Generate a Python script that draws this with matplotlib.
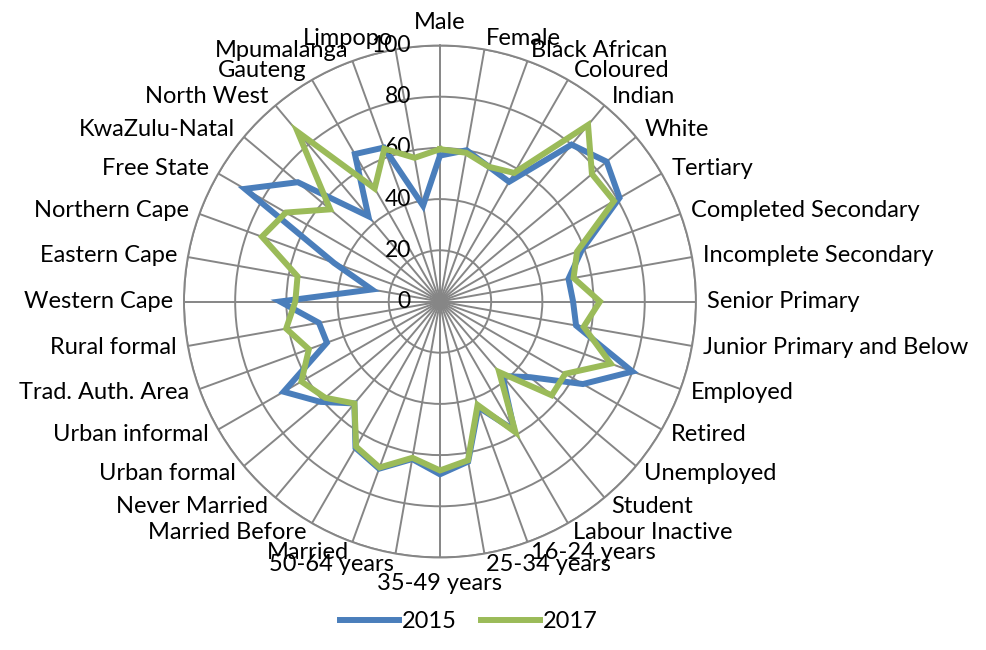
import numpy as np
import matplotlib
matplotlib.use("Agg")
import matplotlib.pyplot as plt

plt.rcParams['font.family'] = ['Lato', 'DejaVu Sans']

categories = ['Male', 'Female', 'Black African', 'Coloured', 'Indian', 'White',
              'Tertiary', 'Completed Secondary', 'Incomplete Secondary',
              'Senior Primary', 'Junior Primary and Below', 'Employed', 'Retired',
              'Unemployed', 'Student', 'Labour Inactive', '16-24 years',
              '25-34 years', '35-49 years', '50-64 years', 'Married',
              'Married Before', 'Never Married', 'Urban formal', 'Urban informal',
              'Trad. Auth. Area', 'Rural formal', 'Western Cape', 'Eastern Cape',
              'Northern Cape', 'Free State', 'KwaZulu-Natal', 'North West',
              'Gauteng', 'Mpumalanga', 'Limpopo']

vals_2015 = [57, 60, 56, 54, 80, 85, 81, 59, 51, 52, 54, 80, 64.5, 46, 38, 58, 44,
             63.5, 67.5, 62.5, 69.5, 66, 52, 61, 70.5, 47, 48, 62.5, 27, 44, 88,
             72.5, 43.5, 66.5, 64, 38]
vals_2017 = [59.5, 59, 56, 58, 90, 77.5, 78.5, 57, 53, 62.5, 57, 71, 56.5, 57, 36,
             59, 43, 63, 66, 62, 69, 65.5, 52, 58.5, 62.5, 54.5, 61, 56.5, 56.5,
             74, 69.5, 56, 86.5, 51, 63.5, 57]
r_ticks = [0, 20, 40, 60, 80, 100]

blue = '#4A7EBB'
green = '#9BBB59'
grid = '#868686'

n = len(categories)
theta = np.arange(n) * 2 * np.pi / n

fig = plt.figure(figsize=(9.87, 6.5), dpi=100)
ax = fig.add_axes([0.1864, 0.1423, 0.5187, 0.7877], projection='polar')
ax.set_theta_zero_location('N')
ax.set_theta_direction(-1)
ax.set_ylim(0, 100)

closed = np.append(theta, theta[0])
ax.plot(closed, vals_2015 + vals_2015[:1], color=blue, lw=4.3, label='2015',
        solid_joinstyle='miter', zorder=3)
ax.plot(closed, vals_2017 + vals_2017[:1], color=green, lw=4.3, label='2017',
        solid_joinstyle='miter', zorder=4)

ax.set_xticks(theta)
ax.set_xticklabels([])
ax.set_yticks(r_ticks)
ax.set_yticklabels([])
ax.grid(True, color=grid, lw=1.4)
ax.spines['polar'].set_color(grid)
ax.spines['polar'].set_linewidth(1.4)
ax.tick_params(length=0)

# radial value labels, left of the vertical spoke
for r in r_ticks:
    ax.annotate(str(r), xy=(0, r), xytext=(-21, 0), textcoords='offset points',
                ha='right', va='center', fontsize=16.5, annotation_clip=False)

# category labels around the outside
fs = 17
for t, lab in zip(theta, categories):
    deg = np.degrees(t)
    if np.isclose(deg, 0):
        ax.text(t, 105, lab, ha='center', va='bottom', fontsize=fs)
    elif np.isclose(deg, 180):
        ax.text(t, 106, lab, ha='center', va='top', fontsize=fs)
    elif deg < 180:
        ax.text(t, 104.3, lab, ha='left', va='center', fontsize=fs)
    else:
        ax.text(t, 104.3, lab, ha='right', va='center', fontsize=fs)

fig.legend(loc='lower center', ncol=2, frameon=False, fontsize=17,
           handlelength=2.5, columnspacing=1.0, handletextpad=0.15,
           bbox_to_anchor=(0.475, -0.005))

fig.savefig('out.png', dpi=100)
